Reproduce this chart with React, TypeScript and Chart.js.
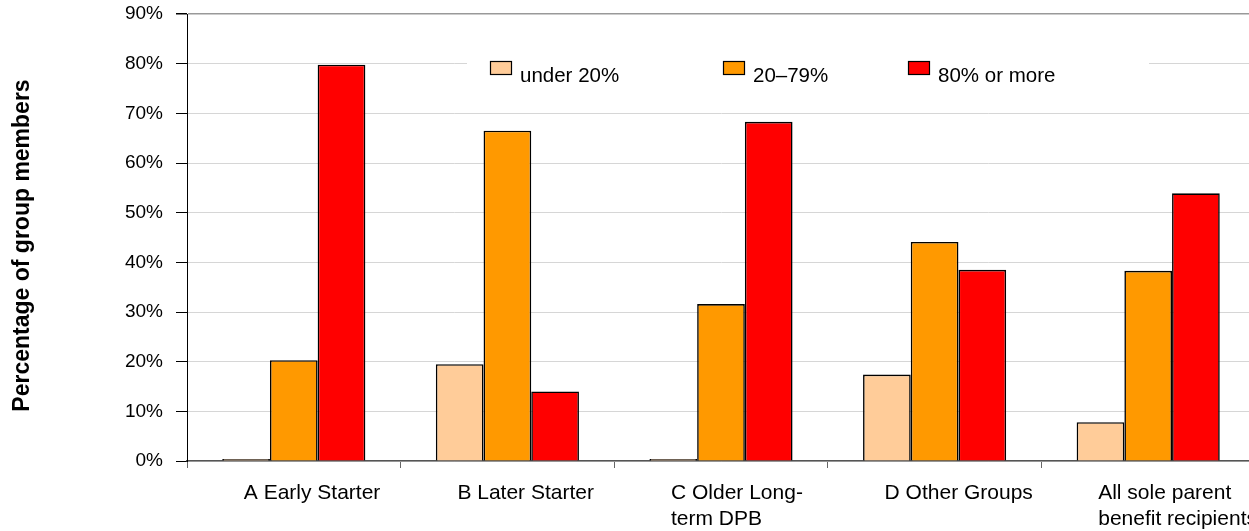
import { useEffect, useRef } from "react";
import { Chart, registerables } from "chart.js";

Chart.register(...registerables);

// Category labels (multi-line where the label wraps)
const categories: string[][] = [
  ["A Early Starter"],
  ["B Later Starter"],
  ["C Older Long-", "term DPB"],
  ["D Other Groups"],
  ["All sole parent", "benefit recipients"],
];

// Share of group members (%) in each band
const under20 = [0, 19.5, 0, 17.4, 7.8];
const from20to79 = [20.3, 66.5, 31.6, 44.1, 38.3];
const over80 = [79.8, 14.0, 68.3, 38.5, 53.9];

const seriesNames = ["under 20%", "20–79%", "80% or more"];
const seriesColors = ["#FFCC99", "#FF9900", "#FF0000"];

const Y_MIN = 0;
const Y_MAX = 90;
const Y_STEP = 10;

const AXIS_TITLE = "Percentage of group members";
const FONT = "'Liberation Sans', Arial, sans-serif";

// Legend drawn inside the plot on a white band
const legendPlugin = {
  id: "insideLegend",
  afterDraw(chart: any) {
    const ctx = chart.ctx as CanvasRenderingContext2D;
    ctx.save();
    ctx.fillStyle = "#ffffff";
    ctx.fillRect(467, 52, 682, 38);
    const starts = [490, 723, 908];
    chart.data.datasets.forEach((ds: any, i: number) => {
      const x = starts[i];
      ctx.fillStyle = ds.backgroundColor;
      ctx.fillRect(x + 0.5, 61.5, 21, 13);
      ctx.strokeStyle = "#000";
      ctx.lineWidth = 1.2;
      ctx.strokeRect(x + 0.5, 61.5, 21, 13);
      ctx.fillStyle = "#000";
      ctx.font = `20.5px ${FONT}`;
      ctx.textAlign = "left";
      ctx.textBaseline = "alphabetic";
      ctx.fillText(ds.label, x + 30, 82);
    });
    ctx.restore();
  },
};

// Category labels under the axis, left-aligned lines hanging from each category
const categoryLabelPlugin = {
  id: "categoryLabels",
  afterDraw(chart: any) {
    const ctx = chart.ctx as CanvasRenderingContext2D;
    const xs = chart.scales.x;
    ctx.save();
    ctx.fillStyle = "#000";
    ctx.font = `21px ${FONT}`;
    ctx.textAlign = "left";
    ctx.textBaseline = "alphabetic";
    (chart.data.labels as string[][]).forEach((lines, i) => {
      const cx = xs.getPixelForValue(i);
      lines.forEach((line, j) => {
        ctx.fillText(line, cx - 50, 499 + j * 26);
      });
    });
    // Vertical axis title
    ctx.translate(22.5, 245.5);
    ctx.rotate(-Math.PI / 2);
    ctx.textAlign = "center";
    ctx.textBaseline = "middle";
    ctx.font = `bold 23px ${FONT}`;
    ctx.fillText(AXIS_TITLE, 0, 0);
    ctx.restore();
  },
};

export default function App() {
  const canvasRef = useRef<HTMLCanvasElement | null>(null);

  useEffect(() => {
    const canvas = canvasRef.current;
    if (!canvas) return;
    const values = [under20, from20to79, over80];
    const chart = new Chart(canvas, {
      type: "bar",
      data: {
        labels: categories as any,
        datasets: values.map((data, i) => ({
          label: seriesNames[i],
          data,
          backgroundColor: seriesColors[i],
          borderColor: "#000000",
          borderWidth: 1.6,
          borderSkipped: "bottom" as const,
          minBarLength: 2,
          categoryPercentage: 0.67,
          barPercentage: 1.0,
        })),
      },
      options: {
        responsive: false,
        animation: false,
        devicePixelRatio: 1,
        layout: { padding: { left: 0, right: 0, top: 14, bottom: 63 } },
        plugins: {
          legend: { display: false },
          tooltip: { enabled: false },
        },
        scales: {
          x: {
            offset: true,
            ticks: { display: false },
            grid: {
              display: true,
              offset: true,
              drawOnChartArea: false,
              drawTicks: true,
              tickLength: 7,
              color: "#666666",
              lineWidth: 1,
            },
            border: { display: true, color: "#555555", width: 1.5 },
          },
          y: {
            min: Y_MIN,
            max: Y_MAX,
            afterFit(scale: any) {
              scale.width = 187;
              scale.paddingTop = 0;
              scale.paddingBottom = 0;
            },
            ticks: {
              stepSize: Y_STEP,
              padding: 13,
              color: "#000",
              font: { family: FONT, size: 19 },
              callback: (v: any) => `${v}%`,
            },
            grid: {
              color: (c: any) => (c.tick && c.tick.value === Y_MAX ? "#999999" : "#d6d6d6"),
              lineWidth: (c: any) => (c.tick && c.tick.value === Y_MAX ? 1.5 : 1),
              drawTicks: true,
              tickLength: 11,
              tickColor: "#000000",
            },
            border: { display: true, color: "#000000", width: 1 },
          },
        },
      },
      plugins: [legendPlugin, categoryLabelPlugin],
    });
    return () => chart.destroy();
  }, []);

  return (
    <div
      style={{
        position: "absolute",
        left: 0,
        top: 0,
        width: 1249,
        height: 531,
        overflow: "hidden",
        background: "#fff",
      }}
    >
      <canvas ref={canvasRef} width={1255} height={531} style={{ display: "block" }} />
    </div>
  );
}
